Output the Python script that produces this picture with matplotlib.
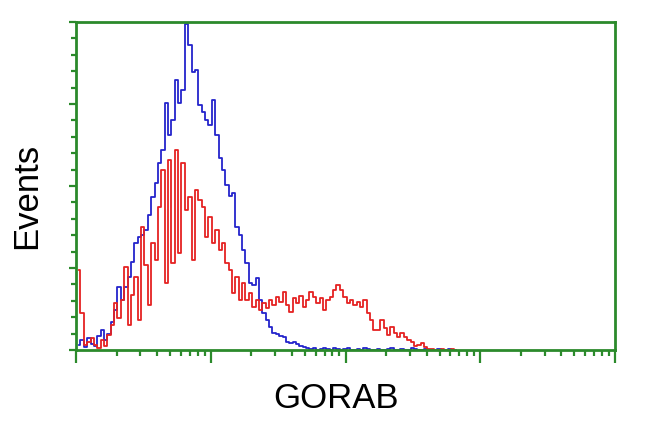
import matplotlib.pyplot as plt
import numpy as np

# histogram counts per channel (40 channels per decade, log axis 10^0..10^4)
blue_counts = [6, 12, 4, 15, 7, 5, 17, 24, 12, 20,
               34, 49, 77, 61, 77, 89, 107, 130, 138, 140,
               146, 165, 187, 204, 228, 244, 301, 262, 280, 329,
               301, 317, 398, 372, 339, 341, 299, 290, 280, 274,
               305, 262, 234, 220, 201, 188, 191, 150, 140, 122,
               106, 82, 79, 88, 61, 45, 37, 28, 21, 20,
               17, 16, 10, 9, 10, 7, 5, 4, 2,
               1, 2, 0, 1, 3, 1, 0, 2, 1, 0, 1, 2, 0, 0, 1, 0, 2, 1, 0, 0,
               1, 0, 0, 1, 2, 0, 0, 1, 0, 0, 2, 1, 0, 0, 1, 0, 0, 0, 1, 0,
               0, 1, 0, 0]
red_counts = [97, 45, 6, 10, 15, 6, 2, 12, 5, 18,
              30, 57, 39, 61, 101, 30, 67, 89, 37, 150,
              104, 55, 130, 110, 174, 220, 82, 232, 106, 244,
              118, 228, 171, 187, 110, 195, 183, 174, 138, 162,
              130, 146, 122, 130, 106, 98, 70, 89, 61, 82,
              61, 70, 52, 61, 49, 57, 51, 61, 55, 65,
              59, 71, 55, 46, 63, 57, 66, 52, 61, 71,
              65, 57, 63, 49, 61, 65, 73, 79, 73, 65,
              57, 61, 55, 59, 52, 61, 45, 37, 24, 24,
              37, 27, 18, 28, 21, 16, 21, 16, 12, 10,
              5, 6, 9, 4, 1, 1, 0, 0, 1, 0, 0, 1, 0]

green = '#2b8a2b'

fig = plt.figure(figsize=(6.5, 4.32), dpi=100)
ax = fig.add_axes([76 / 650, 1 - 350 / 432, 539 / 650, 328 / 432])

xb = 10 ** ((np.arange(len(blue_counts)) + 0.8) / 40)
xr = 10 ** ((np.arange(len(red_counts)) + 0.8) / 40)
ax.plot(xb, blue_counts, color='#2424cc', lw=1.3, drawstyle='steps-mid')
ax.plot(xr, red_counts, color='#e52222', lw=1.3, drawstyle='steps-mid')

ax.set_xscale('log')
ax.set_xlim(1, 10 ** 4)
ax.set_ylim(0, 400)
ax.set_yticks([0, 100, 200, 300, 400])
ax.set_yticks(np.arange(0, 401, 20), minor=True)

for s in ax.spines.values():
    s.set_color(green)
    s.set_linewidth(2)
ax.tick_params(axis='both', which='both', direction='out', color=green,
               labelbottom=False, labelleft=False, width=1.6)
ax.tick_params(axis='x', which='major', length=9)
ax.tick_params(axis='x', which='minor', length=4)
ax.tick_params(axis='y', which='major', length=5)
ax.tick_params(axis='y', which='minor', length=3.5)

fig.text(27 / 650, 1 - 196 / 432, 'Events', rotation=90, fontsize=25,
         family='Liberation Sans', ha='center', va='center')
fig.text(336 / 650, 1 - 398 / 432, 'GORAB', fontsize=25,
         family='Liberation Sans', ha='center', va='center')

fig.savefig('out.png', dpi=100)
